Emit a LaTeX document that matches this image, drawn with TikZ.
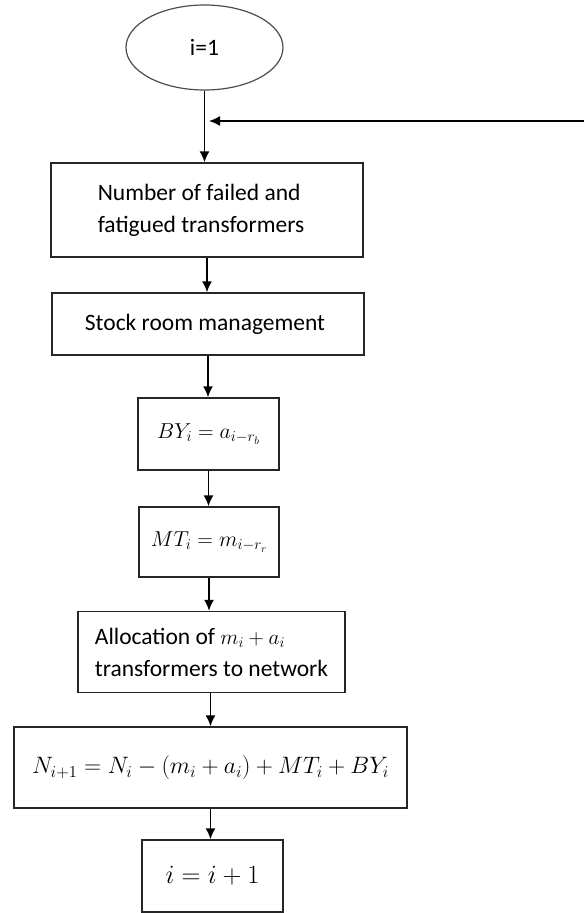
\RequirePackage{fix-cm}
\documentclass[tikz,border=0pt]{standalone}
\usepackage[no-math]{fontspec}
\setmainfont{Carlito}
\usetikzlibrary{shapes.geometric,arrows.meta}
\begin{document}
\begin{tikzpicture}[x=1pt,y=-1pt,
  every node/.style={font=\fontsize{23.5}{32}\selectfont, text=black},
  box/.style={draw=black!85, line width=1.5pt, inner sep=0pt, align=left},
  oval/.style={ellipse, draw=black!70, line width=1.2pt, inner sep=0pt},
  arr/.style={draw=black, line width=1.5pt, -{Latex[length=11pt,width=10pt]}},
  plain/.style={draw=black, line width=1.5pt}
]
\useasboundingbox (0,0) rectangle (584,913);
\node[oval, minimum width=157pt, minimum height=85pt] (e) at (204.5,47.5) {i=1};
\node[box, minimum width=312pt, minimum height=94pt] (b1) at (207,210)
  {Number of failed and\\fatigued transformers\hspace*{12pt}};
\node[box, minimum width=312pt, minimum height=62pt] (b2) at (208,324)
  {Stock room management\hspace*{6pt}};
\node[box, minimum width=141pt, minimum height=72pt] (b3) at (208.5,434)
  {\scalebox{0.92}{$BY_i = a_{i-r_b}$}};
\node[box, minimum width=140pt, minimum height=70pt] (b4) at (209,542)
  {\scalebox{0.92}{$MT_i = m_{i-r_r}$}};
\node[box, minimum width=267pt, minimum height=81pt] (b5) at (211.5,652)
  {Allocation of \scalebox{0.9}{$m_i + a_i$}\\transformers to network};
\node[box, minimum width=393pt, minimum height=81pt] (b6) at (210.5,767.5)
  {\scalebox{1.01}{$N_{i+1} = N_i - (m_i + a_i) + MT_i + BY_i$}};
\node[box, minimum width=141pt, minimum height=72pt] (b7) at (212.5,876)
  {\scalebox{1.12}{$i = i + 1$}};
\coordinate (fbstart) at (584,121);
\coordinate (fbend) at (209,121);
\coordinate (tail) at (210,913);
\draw[arr] (e.south) -- (e.south |- b1.north);
\draw[arr] (fbstart) -- (fbend);
\draw[arr] (b1.south) -- (b1.south |- b2.north);
\draw[arr] (b2.south) -- (b2.south |- b3.north);
\draw[arr] (b3.south) -- (b3.south |- b4.north);
\draw[arr] (b4.south) -- (b4.south |- b5.north);
\draw[arr] (b5.south -| b6.south) -- (b6.north);
\draw[arr] (b6.south) -- (b6.south |- b7.north);
\draw[plain] (b7.south -| tail) -- (tail);
\end{tikzpicture}
\end{document}
